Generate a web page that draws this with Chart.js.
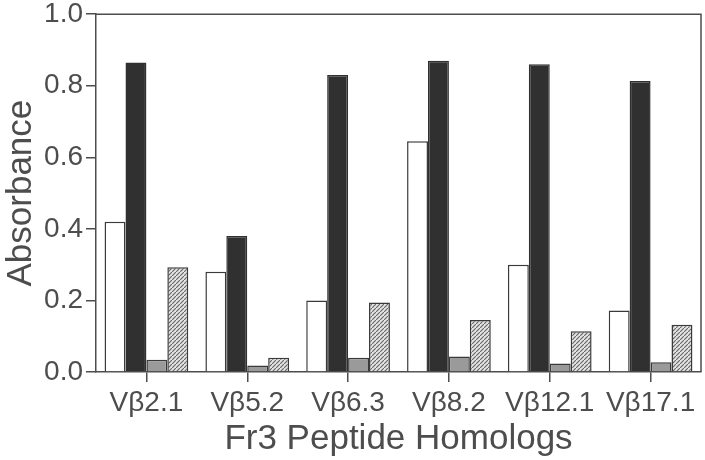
<!DOCTYPE html>
<html>
<head>
<meta charset="utf-8">
<script src="https://cdn.jsdelivr.net/npm/chart.js@4"></script>
<style>
html,body{margin:0;padding:0;background:#fff;}
#wrap{width:705px;height:460px;position:relative;}
</style>
</head>
<body>
<div id="wrap"><canvas id="c" width="705" height="460"></canvas></div>
<script>
const categories = ['Vβ2.1','Vβ5.2','Vβ6.3','Vβ8.2','Vβ12.1','Vβ17.1'];
const openBars    = [0.42, 0.28, 0.20, 0.645, 0.30, 0.172];
const solidBars   = [0.865, 0.38, 0.83, 0.87, 0.86, 0.813];
const grayBars    = [0.034, 0.018, 0.04, 0.043, 0.024, 0.027];
const hatchedBars = [0.293, 0.04, 0.194, 0.145, 0.114, 0.132];
const yTicks = [0, 0.2, 0.4, 0.6, 0.8, 1.0];

function makeHatch(){
  const p = document.createElement('canvas');
  p.width = 4; p.height = 4;
  const g = p.getContext('2d');
  g.fillStyle = '#e4e4e4';
  g.fillRect(0,0,4,4);
  g.strokeStyle = '#6a6a6a';
  g.lineWidth = 1.2;
  g.beginPath();
  g.moveTo(-1,5); g.lineTo(5,-1);
  g.stroke();
  return g.createPattern(p,'repeat');
}

const ink = '#4d4d4d';
const FONT = '"Liberation Sans", Arial, Helvetica, sans-serif';

const frame = {
  id:'frame',
  afterDraw(chart){
    const {ctx, chartArea:a} = chart;
    ctx.save();
    ctx.strokeStyle = ink;
    ctx.lineWidth = 1.5;
    ctx.beginPath();
    ctx.moveTo(a.left, a.top);
    ctx.lineTo(a.right, a.top);
    ctx.lineTo(a.right, a.bottom);
    ctx.stroke();
    ctx.restore();
  }
};

const common = {borderColor:'#3a3a3a', borderWidth:1.5, categoryPercentage:0.83, barPercentage:1.0};

new Chart(document.getElementById('c'), {
  type:'bar',
  data:{
    labels: categories,
    datasets:[
      Object.assign({label:'open', data:openBars, backgroundColor:'#ffffff'}, common),
      Object.assign({label:'solid', data:solidBars, backgroundColor:'#303030'}, common, {borderColor:'#303030'}),
      Object.assign({label:'gray', data:grayBars, backgroundColor:'#9a9a9a'}, common),
      Object.assign({label:'hatched', data:hatchedBars, backgroundColor:makeHatch()}, common)
    ]
  },
  options:{
    responsive:false,
    animation:false,
    devicePixelRatio:1,
    layout:{padding:{top:14, right:4, left:0, bottom:0}},
    plugins:{legend:{display:false}, tooltip:{enabled:false}},
    scales:{
      x:{
        offset:true,
        grid:{offset:false, drawOnChartArea:false, drawTicks:true, tickLength:10, color:ink, lineWidth:1.5},
        border:{display:true, color:ink, width:1.5},
        ticks:{color:ink, font:{family:FONT, size:28}, padding:4, maxRotation:0, autoSkip:false},
        title:{display:true, text:'Fr3 Peptide Homologs', color:ink, font:{family:FONT, size:35}, padding:{top:0, bottom:0}},
        afterFit(s){ s.height = 88; }
      },
      y:{
        min:0, max:1.0,
        afterBuildTicks(s){ s.ticks = yTicks.map(v=>({value:v})); },
        grid:{drawOnChartArea:false, drawTicks:true, tickLength:10, color:ink, lineWidth:1.5},
        border:{display:true, color:ink, width:1.5},
        ticks:{color:ink, font:{family:FONT, size:28, lineHeight:0.8}, padding:3, callback:v=>Number(v).toFixed(1)},
        title:{display:true, text:'Absorbance', color:ink, font:{family:FONT, size:35}, padding:{top:0, bottom:0}},
        afterFit(s){ s.width = 96; }
      }
    }
  },
  plugins:[frame]
});
</script>
</body>
</html>
